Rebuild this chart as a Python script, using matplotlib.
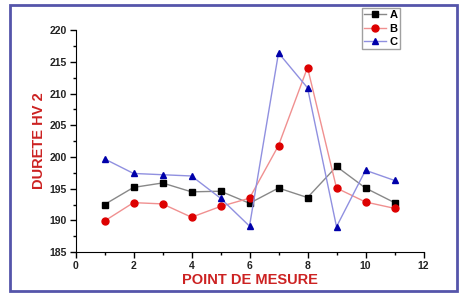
import matplotlib.pyplot as plt
from matplotlib.patches import Rectangle
from matplotlib.ticker import MultipleLocator

points = list(range(1, 12))
dur_a = [192.5, 195.2, 195.9, 194.5, 194.6, 192.7, 195.1, 193.6, 198.5, 195.1, 192.8]
dur_b = [189.9, 192.8, 192.6, 190.5, 192.2, 193.5, 201.8, 214.1, 195.1, 192.9, 191.9]
dur_c = [199.7, 197.4, 197.2, 197.0, 193.5, 189.1, 216.4, 210.9, 189.0, 197.9, 196.3]

plt.rcParams['font.family'] = ['Liberation Sans', 'DejaVu Sans']

fig = plt.figure(figsize=(4.69, 2.98), dpi=100)
ax = fig.add_axes([0.161, 0.154, 0.742, 0.745])

ax.plot(points, dur_a, color='#888888', lw=1, marker='s', ms=4.5,
        mfc='black', mec='black', label='A')
ax.plot(points, dur_b, color='#f09090', lw=1, marker='o', ms=5,
        mfc='#dd0000', mec='#dd0000', label='B')
ax.plot(points, dur_c, color='#9090e0', lw=1, marker='^', ms=5,
        mfc='#0000aa', mec='#0000aa', label='C')

ax.set_xlim(0, 12)
ax.set_ylim(185, 220)
ax.xaxis.set_major_locator(MultipleLocator(2))
ax.xaxis.set_minor_locator(MultipleLocator(1))
ax.yaxis.set_major_locator(MultipleLocator(5))
ax.yaxis.set_minor_locator(MultipleLocator(2.5))
ax.spines['top'].set_visible(False)
ax.spines['right'].set_visible(False)
ax.tick_params(which='major', length=4, width=1, labelsize=7.5, direction='out', pad=2.5)
ax.tick_params(which='minor', length=2, width=1, direction='out')
for lab in ax.get_xticklabels() + ax.get_yticklabels():
    lab.set_fontweight('bold')
    lab.set_color('#222222')

ax.set_xlabel('POINT DE MESURE', color='#cc2222', fontsize=10.5, fontweight='bold', labelpad=1)
ax.set_ylabel('DURETE HV 2', color='#cc2222', fontsize=10.5, fontweight='bold', labelpad=2)

fig.legend(loc='upper left', bbox_to_anchor=(0.771, 0.973),
           frameon=True, fancybox=False, edgecolor='#888888', handlelength=2.0,
           borderpad=0.2, labelspacing=0.3, handletextpad=0.3, borderaxespad=0,
           prop={'weight': 'bold', 'size': 8})

fig.patches.append(Rectangle((0.022, 0.025), 0.953, 0.958, transform=fig.transFigure,
                             fill=False, edgecolor='#5555aa', lw=2))

fig.savefig('out.png', dpi=100)
